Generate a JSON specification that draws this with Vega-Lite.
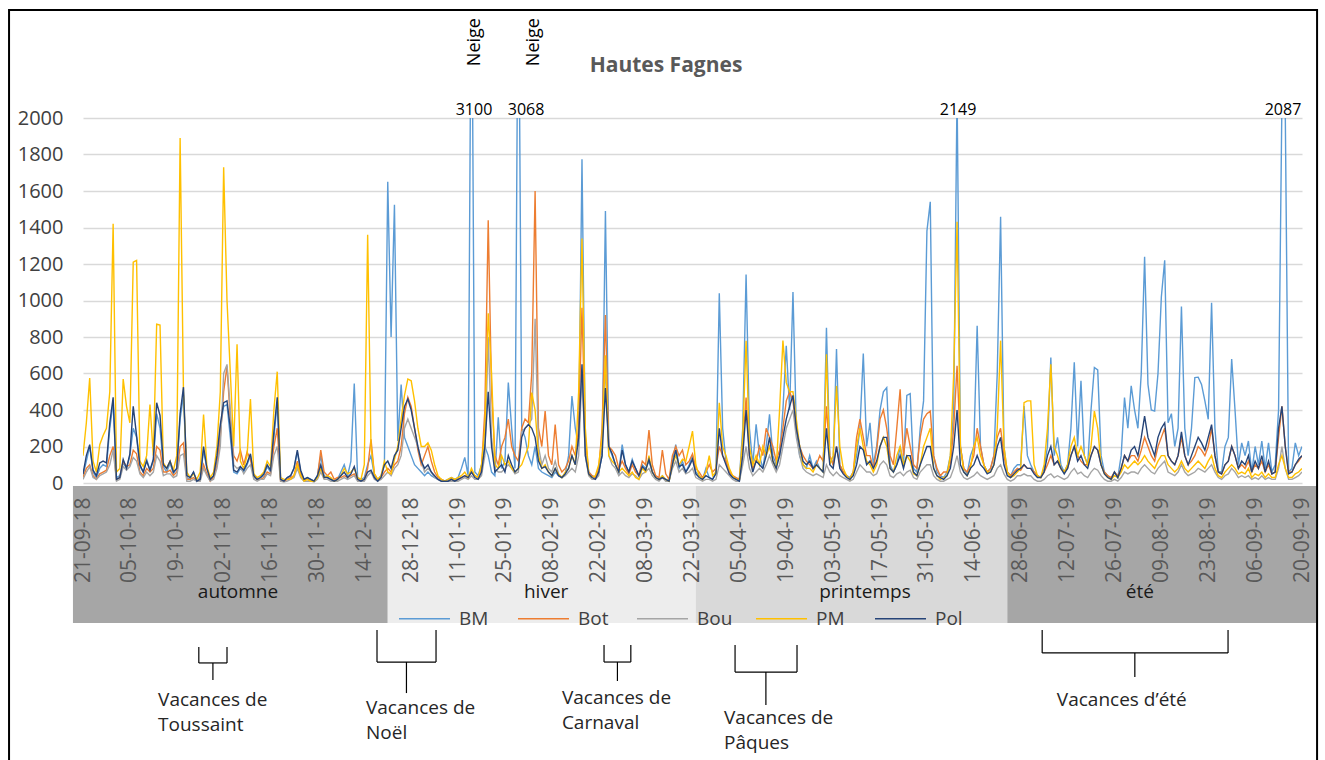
{
"$schema":"https://vega.github.io/schema/vega-lite/v6.json",
"width":1219,"height":365,
"autosize":{"type":"none"},
"padding":{"left":83,"top":118,"right":23,"bottom":277},
"background":"white",
"config":{"font":"Open Sans","view":{"stroke":null}},
"resolve":{"axis":{"x":"independent","y":"independent"}},
"datasets":{
"daily":[
{"d":"2018-09-21","BM":40,"Bot":30,"Bou":20,"PM":150,"Pol":50},
{"d":"2018-09-22","BM":120,"Bot":80,"Bou":60,"PM":330,"Pol":150},
{"d":"2018-09-23","BM":200,"Bot":100,"Bou":90,"PM":575,"Pol":210},
{"d":"2018-09-24","BM":60,"Bot":40,"Bou":30,"PM":120,"Pol":70},
{"d":"2018-09-25","BM":30,"Bot":20,"Bou":20,"PM":60,"Pol":40},
{"d":"2018-09-26","BM":80,"Bot":50,"Bou":40,"PM":210,"Pol":110},
{"d":"2018-09-27","BM":100,"Bot":60,"Bou":50,"PM":260,"Pol":120},
{"d":"2018-09-28","BM":90,"Bot":70,"Bou":60,"PM":300,"Pol":110},
{"d":"2018-09-29","BM":300,"Bot":150,"Bou":100,"PM":500,"Pol":330},
{"d":"2018-09-30","BM":440,"Bot":200,"Bou":180,"PM":1420,"Pol":470},
{"d":"2018-10-01","BM":30,"Bot":20,"Bou":10,"PM":60,"Pol":20},
{"d":"2018-10-02","BM":40,"Bot":30,"Bou":20,"PM":80,"Pol":30},
{"d":"2018-10-03","BM":110,"Bot":120,"Bou":90,"PM":570,"Pol":130},
{"d":"2018-10-04","BM":80,"Bot":90,"Bou":70,"PM":420,"Pol":80},
{"d":"2018-10-05","BM":150,"Bot":100,"Bou":90,"PM":330,"Pol":160},
{"d":"2018-10-06","BM":300,"Bot":180,"Bou":140,"PM":1210,"Pol":420},
{"d":"2018-10-07","BM":250,"Bot":160,"Bou":120,"PM":1220,"Pol":260},
{"d":"2018-10-08","BM":90,"Bot":60,"Bou":50,"PM":120,"Pol":100},
{"d":"2018-10-09","BM":60,"Bot":40,"Bou":30,"PM":90,"Pol":60},
{"d":"2018-10-10","BM":130,"Bot":80,"Bou":60,"PM":150,"Pol":120},
{"d":"2018-10-11","BM":70,"Bot":60,"Bou":40,"PM":430,"Pol":70},
{"d":"2018-10-12","BM":120,"Bot":80,"Bou":60,"PM":150,"Pol":130},
{"d":"2018-10-13","BM":380,"Bot":200,"Bou":150,"PM":870,"Pol":440},
{"d":"2018-10-14","BM":300,"Bot":180,"Bou":120,"PM":865,"Pol":370},
{"d":"2018-10-15","BM":90,"Bot":60,"Bou":40,"PM":110,"Pol":100},
{"d":"2018-10-16","BM":60,"Bot":60,"Bou":50,"PM":80,"Pol":80},
{"d":"2018-10-17","BM":110,"Bot":70,"Bou":50,"PM":120,"Pol":120},
{"d":"2018-10-18","BM":50,"Bot":40,"Bou":30,"PM":70,"Pol":60},
{"d":"2018-10-19","BM":80,"Bot":60,"Bou":40,"PM":150,"Pol":80},
{"d":"2018-10-20","BM":350,"Bot":200,"Bou":150,"PM":1890,"Pol":380},
{"d":"2018-10-21","BM":480,"Bot":220,"Bou":160,"PM":500,"Pol":525},
{"d":"2018-10-22","BM":30,"Bot":20,"Bou":10,"PM":60,"Pol":40},
{"d":"2018-10-23","BM":20,"Bot":20,"Bou":10,"PM":30,"Pol":30},
{"d":"2018-10-24","BM":60,"Bot":30,"Bou":20,"PM":50,"Pol":60},
{"d":"2018-10-25","BM":10,"Bot":10,"Bou":10,"PM":20,"Pol":10},
{"d":"2018-10-26","BM":30,"Bot":20,"Bou":10,"PM":60,"Pol":20},
{"d":"2018-10-27","BM":180,"Bot":100,"Bou":80,"PM":375,"Pol":200},
{"d":"2018-10-28","BM":80,"Bot":50,"Bou":40,"PM":90,"Pol":80},
{"d":"2018-10-29","BM":20,"Bot":10,"Bou":10,"PM":30,"Pol":20},
{"d":"2018-10-30","BM":40,"Bot":30,"Bou":20,"PM":60,"Pol":40},
{"d":"2018-10-31","BM":120,"Bot":100,"Bou":80,"PM":200,"Pol":150},
{"d":"2018-11-01","BM":300,"Bot":250,"Bou":200,"PM":500,"Pol":320},
{"d":"2018-11-02","BM":420,"Bot":500,"Bou":600,"PM":1730,"Pol":440},
{"d":"2018-11-03","BM":430,"Bot":640,"Bou":650,"PM":1000,"Pol":450},
{"d":"2018-11-04","BM":250,"Bot":350,"Bou":400,"PM":600,"Pol":300},
{"d":"2018-11-05","BM":60,"Bot":150,"Bou":100,"PM":200,"Pol":70},
{"d":"2018-11-06","BM":50,"Bot":120,"Bou":80,"PM":760,"Pol":60},
{"d":"2018-11-07","BM":80,"Bot":180,"Bou":90,"PM":120,"Pol":90},
{"d":"2018-11-08","BM":60,"Bot":100,"Bou":50,"PM":80,"Pol":70},
{"d":"2018-11-09","BM":100,"Bot":170,"Bou":80,"PM":150,"Pol":110},
{"d":"2018-11-10","BM":150,"Bot":130,"Bou":100,"PM":460,"Pol":160},
{"d":"2018-11-11","BM":30,"Bot":40,"Bou":20,"PM":50,"Pol":40},
{"d":"2018-11-12","BM":20,"Bot":20,"Bou":10,"PM":30,"Pol":20},
{"d":"2018-11-13","BM":30,"Bot":20,"Bou":20,"PM":40,"Pol":30},
{"d":"2018-11-14","BM":40,"Bot":30,"Bou":20,"PM":60,"Pol":50},
{"d":"2018-11-15","BM":90,"Bot":60,"Bou":50,"PM":120,"Pol":100},
{"d":"2018-11-16","BM":60,"Bot":50,"Bou":40,"PM":90,"Pol":70},
{"d":"2018-11-17","BM":250,"Bot":200,"Bou":150,"PM":400,"Pol":280},
{"d":"2018-11-18","BM":440,"Bot":300,"Bou":200,"PM":610,"Pol":470},
{"d":"2018-11-19","BM":20,"Bot":10,"Bou":10,"PM":30,"Pol":20},
{"d":"2018-11-20","BM":10,"Bot":10,"Bou":5,"PM":20,"Pol":10},
{"d":"2018-11-21","BM":30,"Bot":20,"Bou":10,"PM":20,"Pol":30},
{"d":"2018-11-22","BM":40,"Bot":30,"Bou":20,"PM":20,"Pol":40},
{"d":"2018-11-23","BM":80,"Bot":40,"Bou":30,"PM":40,"Pol":80},
{"d":"2018-11-24","BM":170,"Bot":120,"Bou":80,"PM":100,"Pol":180},
{"d":"2018-11-25","BM":60,"Bot":50,"Bou":30,"PM":40,"Pol":70},
{"d":"2018-11-26","BM":20,"Bot":20,"Bou":10,"PM":10,"Pol":20},
{"d":"2018-11-27","BM":30,"Bot":20,"Bou":10,"PM":20,"Pol":30},
{"d":"2018-11-28","BM":20,"Bot":10,"Bou":10,"PM":10,"Pol":20},
{"d":"2018-11-29","BM":10,"Bot":10,"Bou":5,"PM":10,"Pol":10},
{"d":"2018-11-30","BM":40,"Bot":30,"Bou":20,"PM":30,"Pol":40},
{"d":"2018-12-01","BM":150,"Bot":180,"Bou":60,"PM":80,"Pol":100},
{"d":"2018-12-02","BM":40,"Bot":60,"Bou":20,"PM":30,"Pol":30},
{"d":"2018-12-03","BM":30,"Bot":40,"Bou":20,"PM":40,"Pol":30},
{"d":"2018-12-04","BM":20,"Bot":60,"Bou":10,"PM":30,"Pol":20},
{"d":"2018-12-05","BM":10,"Bot":20,"Bou":10,"PM":10,"Pol":10},
{"d":"2018-12-06","BM":20,"Bot":30,"Bou":10,"PM":20,"Pol":20},
{"d":"2018-12-07","BM":60,"Bot":30,"Bou":20,"PM":40,"Pol":40},
{"d":"2018-12-08","BM":100,"Bot":40,"Bou":30,"PM":80,"Pol":60},
{"d":"2018-12-09","BM":40,"Bot":30,"Bou":20,"PM":50,"Pol":30},
{"d":"2018-12-10","BM":120,"Bot":40,"Bou":30,"PM":60,"Pol":50},
{"d":"2018-12-11","BM":545,"Bot":50,"Bou":40,"PM":80,"Pol":90},
{"d":"2018-12-12","BM":30,"Bot":20,"Bou":10,"PM":30,"Pol":20},
{"d":"2018-12-13","BM":20,"Bot":10,"Bou":10,"PM":20,"Pol":10},
{"d":"2018-12-14","BM":30,"Bot":20,"Bou":10,"PM":100,"Pol":20},
{"d":"2018-12-15","BM":100,"Bot":80,"Bou":40,"PM":1360,"Pol":60},
{"d":"2018-12-16","BM":150,"Bot":240,"Bou":60,"PM":200,"Pol":70},
{"d":"2018-12-17","BM":40,"Bot":50,"Bou":20,"PM":50,"Pol":30},
{"d":"2018-12-18","BM":20,"Bot":20,"Bou":10,"PM":20,"Pol":10},
{"d":"2018-12-19","BM":40,"Bot":30,"Bou":20,"PM":40,"Pol":30},
{"d":"2018-12-20","BM":100,"Bot":60,"Bou":40,"PM":120,"Pol":100},
{"d":"2018-12-21","BM":1650,"Bot":80,"Bou":60,"PM":60,"Pol":120},
{"d":"2018-12-22","BM":800,"Bot":60,"Bou":40,"PM":50,"Pol":80},
{"d":"2018-12-23","BM":1525,"Bot":100,"Bou":80,"PM":130,"Pol":150},
{"d":"2018-12-24","BM":230,"Bot":120,"Bou":100,"PM":200,"Pol":180},
{"d":"2018-12-25","BM":540,"Bot":200,"Bou":150,"PM":350,"Pol":300},
{"d":"2018-12-26","BM":250,"Bot":380,"Bou":300,"PM":480,"Pol":420},
{"d":"2018-12-27","BM":200,"Bot":470,"Bou":350,"PM":570,"Pol":460},
{"d":"2018-12-28","BM":150,"Bot":420,"Bou":300,"PM":560,"Pol":400},
{"d":"2018-12-29","BM":100,"Bot":300,"Bou":250,"PM":450,"Pol":300},
{"d":"2018-12-30","BM":80,"Bot":180,"Bou":200,"PM":300,"Pol":200},
{"d":"2018-12-31","BM":60,"Bot":100,"Bou":120,"PM":200,"Pol":120},
{"d":"2019-01-01","BM":40,"Bot":150,"Bou":60,"PM":200,"Pol":80},
{"d":"2019-01-02","BM":60,"Bot":200,"Bou":80,"PM":220,"Pol":100},
{"d":"2019-01-03","BM":40,"Bot":120,"Bou":60,"PM":180,"Pol":60},
{"d":"2019-01-04","BM":30,"Bot":60,"Bou":30,"PM":100,"Pol":40},
{"d":"2019-01-05","BM":20,"Bot":30,"Bou":20,"PM":40,"Pol":20},
{"d":"2019-01-06","BM":20,"Bot":20,"Bou":10,"PM":20,"Pol":10},
{"d":"2019-01-07","BM":10,"Bot":10,"Bou":10,"PM":10,"Pol":10},
{"d":"2019-01-08","BM":20,"Bot":10,"Bou":10,"PM":20,"Pol":10},
{"d":"2019-01-09","BM":30,"Bot":20,"Bou":10,"PM":30,"Pol":20},
{"d":"2019-01-10","BM":20,"Bot":10,"Bou":10,"PM":20,"Pol":10},
{"d":"2019-01-11","BM":30,"Bot":20,"Bou":10,"PM":30,"Pol":20},
{"d":"2019-01-12","BM":80,"Bot":30,"Bou":20,"PM":40,"Pol":30},
{"d":"2019-01-13","BM":140,"Bot":40,"Bou":30,"PM":60,"Pol":40},
{"d":"2019-01-14","BM":40,"Bot":30,"Bou":20,"PM":30,"Pol":30},
{"d":"2019-01-15","BM":3100,"Bot":60,"Bou":40,"PM":80,"Pol":60},
{"d":"2019-01-16","BM":60,"Bot":40,"Bou":20,"PM":40,"Pol":30},
{"d":"2019-01-17","BM":40,"Bot":30,"Bou":20,"PM":30,"Pol":20},
{"d":"2019-01-18","BM":100,"Bot":80,"Bou":40,"PM":100,"Pol":60},
{"d":"2019-01-19","BM":200,"Bot":400,"Bou":150,"PM":300,"Pol":200},
{"d":"2019-01-20","BM":150,"Bot":1440,"Bou":800,"PM":930,"Pol":500},
{"d":"2019-01-21","BM":60,"Bot":500,"Bou":250,"PM":600,"Pol":200},
{"d":"2019-01-22","BM":40,"Bot":150,"Bou":80,"PM":100,"Pol":60},
{"d":"2019-01-23","BM":360,"Bot":100,"Bou":60,"PM":80,"Pol":80},
{"d":"2019-01-24","BM":80,"Bot":200,"Bou":60,"PM":150,"Pol":100},
{"d":"2019-01-25","BM":120,"Bot":250,"Bou":80,"PM":100,"Pol":60},
{"d":"2019-01-26","BM":550,"Bot":350,"Bou":100,"PM":120,"Pol":150},
{"d":"2019-01-27","BM":300,"Bot":200,"Bou":80,"PM":80,"Pol":100},
{"d":"2019-01-28","BM":80,"Bot":150,"Bou":50,"PM":60,"Pol":60},
{"d":"2019-01-29","BM":3068,"Bot":120,"Bou":60,"PM":80,"Pol":80},
{"d":"2019-01-30","BM":300,"Bot":300,"Bou":280,"PM":100,"Pol":250},
{"d":"2019-01-31","BM":250,"Bot":350,"Bou":300,"PM":150,"Pol":300},
{"d":"2019-02-01","BM":150,"Bot":330,"Bou":320,"PM":200,"Pol":320},
{"d":"2019-02-02","BM":100,"Bot":600,"Bou":350,"PM":495,"Pol":300},
{"d":"2019-02-03","BM":200,"Bot":1600,"Bou":900,"PM":400,"Pol":250},
{"d":"2019-02-04","BM":80,"Bot":300,"Bou":200,"PM":150,"Pol":120},
{"d":"2019-02-05","BM":60,"Bot":200,"Bou":100,"PM":80,"Pol":80},
{"d":"2019-02-06","BM":50,"Bot":394,"Bou":150,"PM":100,"Pol":90},
{"d":"2019-02-07","BM":40,"Bot":150,"Bou":80,"PM":60,"Pol":60},
{"d":"2019-02-08","BM":30,"Bot":100,"Bou":60,"PM":40,"Pol":40},
{"d":"2019-02-09","BM":60,"Bot":320,"Bou":120,"PM":80,"Pol":80},
{"d":"2019-02-10","BM":40,"Bot":100,"Bou":50,"PM":50,"Pol":40},
{"d":"2019-02-11","BM":30,"Bot":60,"Bou":30,"PM":30,"Pol":30},
{"d":"2019-02-12","BM":50,"Bot":80,"Bou":40,"PM":60,"Pol":50},
{"d":"2019-02-13","BM":150,"Bot":120,"Bou":60,"PM":80,"Pol":80},
{"d":"2019-02-14","BM":477,"Bot":200,"Bou":80,"PM":150,"Pol":150},
{"d":"2019-02-15","BM":300,"Bot":150,"Bou":60,"PM":100,"Pol":100},
{"d":"2019-02-16","BM":200,"Bot":300,"Bou":150,"PM":500,"Pol":250},
{"d":"2019-02-17","BM":1774,"Bot":960,"Bou":600,"PM":1340,"Pol":650},
{"d":"2019-02-18","BM":200,"Bot":250,"Bou":150,"PM":300,"Pol":150},
{"d":"2019-02-19","BM":60,"Bot":60,"Bou":40,"PM":50,"Pol":50},
{"d":"2019-02-20","BM":40,"Bot":40,"Bou":20,"PM":30,"Pol":30},
{"d":"2019-02-21","BM":30,"Bot":30,"Bou":20,"PM":40,"Pol":20},
{"d":"2019-02-22","BM":60,"Bot":80,"Bou":40,"PM":100,"Pol":60},
{"d":"2019-02-23","BM":150,"Bot":300,"Bou":200,"PM":250,"Pol":150},
{"d":"2019-02-24","BM":1490,"Bot":920,"Bou":650,"PM":700,"Pol":520},
{"d":"2019-02-25","BM":200,"Bot":200,"Bou":150,"PM":150,"Pol":200},
{"d":"2019-02-26","BM":150,"Bot":180,"Bou":100,"PM":120,"Pol":160},
{"d":"2019-02-27","BM":100,"Bot":150,"Bou":80,"PM":100,"Pol":100},
{"d":"2019-02-28","BM":60,"Bot":80,"Bou":40,"PM":60,"Pol":60},
{"d":"2019-03-01","BM":210,"Bot":120,"Bou":60,"PM":80,"Pol":180},
{"d":"2019-03-02","BM":100,"Bot":80,"Bou":40,"PM":60,"Pol":100},
{"d":"2019-03-03","BM":60,"Bot":50,"Bou":30,"PM":40,"Pol":60},
{"d":"2019-03-04","BM":130,"Bot":100,"Bou":50,"PM":60,"Pol":120},
{"d":"2019-03-05","BM":80,"Bot":60,"Bou":40,"PM":30,"Pol":80},
{"d":"2019-03-06","BM":40,"Bot":40,"Bou":20,"PM":20,"Pol":40},
{"d":"2019-03-07","BM":100,"Bot":120,"Bou":50,"PM":80,"Pol":90},
{"d":"2019-03-08","BM":80,"Bot":100,"Bou":60,"PM":60,"Pol":70},
{"d":"2019-03-09","BM":120,"Bot":290,"Bou":80,"PM":150,"Pol":130},
{"d":"2019-03-10","BM":60,"Bot":100,"Bou":40,"PM":60,"Pol":60},
{"d":"2019-03-11","BM":30,"Bot":40,"Bou":20,"PM":30,"Pol":30},
{"d":"2019-03-12","BM":20,"Bot":30,"Bou":10,"PM":20,"Pol":20},
{"d":"2019-03-13","BM":40,"Bot":180,"Bou":30,"PM":40,"Pol":30},
{"d":"2019-03-14","BM":20,"Bot":50,"Bou":10,"PM":20,"Pol":20},
{"d":"2019-03-15","BM":10,"Bot":20,"Bou":10,"PM":10,"Pol":10},
{"d":"2019-03-16","BM":120,"Bot":150,"Bou":80,"PM":100,"Pol":100},
{"d":"2019-03-17","BM":210,"Bot":200,"Bou":120,"PM":150,"Pol":180},
{"d":"2019-03-18","BM":80,"Bot":150,"Bou":60,"PM":100,"Pol":90},
{"d":"2019-03-19","BM":120,"Bot":180,"Bou":80,"PM":130,"Pol":100},
{"d":"2019-03-20","BM":60,"Bot":100,"Bou":50,"PM":120,"Pol":60},
{"d":"2019-03-21","BM":100,"Bot":120,"Bou":60,"PM":200,"Pol":90},
{"d":"2019-03-22","BM":150,"Bot":160,"Bou":80,"PM":284,"Pol":130},
{"d":"2019-03-23","BM":60,"Bot":80,"Bou":30,"PM":100,"Pol":50},
{"d":"2019-03-24","BM":40,"Bot":60,"Bou":20,"PM":40,"Pol":30},
{"d":"2019-03-25","BM":20,"Bot":30,"Bou":10,"PM":20,"Pol":20},
{"d":"2019-03-26","BM":80,"Bot":60,"Bou":20,"PM":60,"Pol":40},
{"d":"2019-03-27","BM":30,"Bot":100,"Bou":20,"PM":150,"Pol":30},
{"d":"2019-03-28","BM":20,"Bot":60,"Bou":10,"PM":40,"Pol":20},
{"d":"2019-03-29","BM":60,"Bot":80,"Bou":20,"PM":60,"Pol":50},
{"d":"2019-03-30","BM":1040,"Bot":200,"Bou":100,"PM":440,"Pol":300},
{"d":"2019-03-31","BM":300,"Bot":150,"Bou":80,"PM":200,"Pol":150},
{"d":"2019-04-01","BM":120,"Bot":120,"Bou":60,"PM":150,"Pol":100},
{"d":"2019-04-02","BM":60,"Bot":60,"Bou":40,"PM":80,"Pol":50},
{"d":"2019-04-03","BM":30,"Bot":40,"Bou":20,"PM":40,"Pol":30},
{"d":"2019-04-04","BM":20,"Bot":30,"Bou":10,"PM":20,"Pol":20},
{"d":"2019-04-05","BM":20,"Bot":20,"Bou":10,"PM":20,"Pol":10},
{"d":"2019-04-06","BM":300,"Bot":200,"Bou":100,"PM":250,"Pol":150},
{"d":"2019-04-07","BM":1143,"Bot":468,"Bou":200,"PM":780,"Pol":400},
{"d":"2019-04-08","BM":300,"Bot":150,"Bou":80,"PM":200,"Pol":150},
{"d":"2019-04-09","BM":100,"Bot":80,"Bou":40,"PM":100,"Pol":60},
{"d":"2019-04-10","BM":321,"Bot":120,"Bou":60,"PM":150,"Pol":120},
{"d":"2019-04-11","BM":150,"Bot":200,"Bou":80,"PM":100,"Pol":100},
{"d":"2019-04-12","BM":80,"Bot":150,"Bou":60,"PM":200,"Pol":80},
{"d":"2019-04-13","BM":200,"Bot":300,"Bou":100,"PM":150,"Pol":150},
{"d":"2019-04-14","BM":376,"Bot":250,"Bou":150,"PM":200,"Pol":250},
{"d":"2019-04-15","BM":150,"Bot":200,"Bou":100,"PM":120,"Pol":120},
{"d":"2019-04-16","BM":100,"Bot":120,"Bou":60,"PM":80,"Pol":80},
{"d":"2019-04-17","BM":150,"Bot":180,"Bou":100,"PM":400,"Pol":150},
{"d":"2019-04-18","BM":400,"Bot":300,"Bou":200,"PM":780,"Pol":250},
{"d":"2019-04-19","BM":752,"Bot":450,"Bou":300,"PM":550,"Pol":350},
{"d":"2019-04-20","BM":400,"Bot":500,"Bou":350,"PM":500,"Pol":420},
{"d":"2019-04-21","BM":1046,"Bot":450,"Bou":400,"PM":500,"Pol":480},
{"d":"2019-04-22","BM":300,"Bot":300,"Bou":250,"PM":350,"Pol":300},
{"d":"2019-04-23","BM":150,"Bot":200,"Bou":150,"PM":200,"Pol":200},
{"d":"2019-04-24","BM":100,"Bot":150,"Bou":80,"PM":100,"Pol":120},
{"d":"2019-04-25","BM":80,"Bot":120,"Bou":60,"PM":80,"Pol":100},
{"d":"2019-04-26","BM":150,"Bot":100,"Bou":50,"PM":80,"Pol":120},
{"d":"2019-04-27","BM":80,"Bot":80,"Bou":40,"PM":60,"Pol":80},
{"d":"2019-04-28","BM":120,"Bot":100,"Bou":50,"PM":100,"Pol":100},
{"d":"2019-04-29","BM":80,"Bot":150,"Bou":40,"PM":80,"Pol":80},
{"d":"2019-04-30","BM":60,"Bot":120,"Bou":30,"PM":60,"Pol":60},
{"d":"2019-05-01","BM":850,"Bot":420,"Bou":100,"PM":706,"Pol":300},
{"d":"2019-05-02","BM":150,"Bot":150,"Bou":60,"PM":100,"Pol":100},
{"d":"2019-05-03","BM":100,"Bot":100,"Bou":40,"PM":150,"Pol":80},
{"d":"2019-05-04","BM":734,"Bot":200,"Bou":60,"PM":532,"Pol":200},
{"d":"2019-05-05","BM":100,"Bot":100,"Bou":40,"PM":200,"Pol":80},
{"d":"2019-05-06","BM":60,"Bot":60,"Bou":30,"PM":80,"Pol":50},
{"d":"2019-05-07","BM":40,"Bot":40,"Bou":20,"PM":40,"Pol":30},
{"d":"2019-05-08","BM":30,"Bot":20,"Bou":10,"PM":20,"Pol":20},
{"d":"2019-05-09","BM":60,"Bot":60,"Bou":20,"PM":60,"Pol":40},
{"d":"2019-05-10","BM":150,"Bot":250,"Bou":60,"PM":200,"Pol":100},
{"d":"2019-05-11","BM":300,"Bot":350,"Bou":100,"PM":300,"Pol":200},
{"d":"2019-05-12","BM":710,"Bot":250,"Bou":80,"PM":200,"Pol":180},
{"d":"2019-05-13","BM":200,"Bot":150,"Bou":60,"PM":120,"Pol":100},
{"d":"2019-05-14","BM":330,"Bot":150,"Bou":60,"PM":100,"Pol":120},
{"d":"2019-05-15","BM":100,"Bot":80,"Bou":40,"PM":60,"Pol":80},
{"d":"2019-05-16","BM":200,"Bot":180,"Bou":50,"PM":100,"Pol":120},
{"d":"2019-05-17","BM":400,"Bot":350,"Bou":100,"PM":200,"Pol":200},
{"d":"2019-05-18","BM":500,"Bot":400,"Bou":120,"PM":250,"Pol":250},
{"d":"2019-05-19","BM":523,"Bot":300,"Bou":100,"PM":200,"Pol":250},
{"d":"2019-05-20","BM":100,"Bot":150,"Bou":40,"PM":80,"Pol":80},
{"d":"2019-05-21","BM":60,"Bot":100,"Bou":30,"PM":60,"Pol":60},
{"d":"2019-05-22","BM":100,"Bot":300,"Bou":50,"PM":150,"Pol":100},
{"d":"2019-05-23","BM":200,"Bot":514,"Bou":60,"PM":200,"Pol":150},
{"d":"2019-05-24","BM":100,"Bot":150,"Bou":40,"PM":100,"Pol":80},
{"d":"2019-05-25","BM":480,"Bot":300,"Bou":60,"PM":150,"Pol":150},
{"d":"2019-05-26","BM":490,"Bot":200,"Bou":70,"PM":120,"Pol":150},
{"d":"2019-05-27","BM":80,"Bot":100,"Bou":30,"PM":50,"Pol":60},
{"d":"2019-05-28","BM":60,"Bot":80,"Bou":20,"PM":40,"Pol":40},
{"d":"2019-05-29","BM":300,"Bot":250,"Bou":60,"PM":100,"Pol":100},
{"d":"2019-05-30","BM":450,"Bot":350,"Bou":80,"PM":200,"Pol":150},
{"d":"2019-05-31","BM":1380,"Bot":380,"Bou":100,"PM":250,"Pol":200},
{"d":"2019-06-01","BM":1541,"Bot":394,"Bou":100,"PM":300,"Pol":200},
{"d":"2019-06-02","BM":150,"Bot":150,"Bou":40,"PM":80,"Pol":80},
{"d":"2019-06-03","BM":60,"Bot":80,"Bou":20,"PM":40,"Pol":40},
{"d":"2019-06-04","BM":40,"Bot":40,"Bou":10,"PM":20,"Pol":30},
{"d":"2019-06-05","BM":30,"Bot":60,"Bou":10,"PM":30,"Pol":20},
{"d":"2019-06-06","BM":60,"Bot":60,"Bou":20,"PM":40,"Pol":40},
{"d":"2019-06-07","BM":150,"Bot":100,"Bou":30,"PM":150,"Pol":80},
{"d":"2019-06-08","BM":400,"Bot":300,"Bou":80,"PM":600,"Pol":200},
{"d":"2019-06-09","BM":2149,"Bot":642,"Bou":150,"PM":1431,"Pol":400},
{"d":"2019-06-10","BM":200,"Bot":200,"Bou":60,"PM":200,"Pol":100},
{"d":"2019-06-11","BM":80,"Bot":80,"Bou":30,"PM":60,"Pol":60},
{"d":"2019-06-12","BM":50,"Bot":60,"Bou":20,"PM":40,"Pol":40},
{"d":"2019-06-13","BM":150,"Bot":100,"Bou":30,"PM":80,"Pol":80},
{"d":"2019-06-14","BM":200,"Bot":150,"Bou":40,"PM":200,"Pol":100},
{"d":"2019-06-15","BM":862,"Bot":300,"Bou":60,"PM":250,"Pol":150},
{"d":"2019-06-16","BM":200,"Bot":200,"Bou":40,"PM":150,"Pol":100},
{"d":"2019-06-17","BM":100,"Bot":100,"Bou":30,"PM":100,"Pol":80},
{"d":"2019-06-18","BM":60,"Bot":60,"Bou":20,"PM":60,"Pol":50},
{"d":"2019-06-19","BM":80,"Bot":80,"Bou":30,"PM":60,"Pol":60},
{"d":"2019-06-20","BM":150,"Bot":150,"Bou":40,"PM":100,"Pol":100},
{"d":"2019-06-21","BM":600,"Bot":250,"Bou":80,"PM":300,"Pol":200},
{"d":"2019-06-22","BM":1459,"Bot":300,"Bou":100,"PM":780,"Pol":250},
{"d":"2019-06-23","BM":200,"Bot":150,"Bou":50,"PM":200,"Pol":100},
{"d":"2019-06-24","BM":60,"Bot":60,"Bou":20,"PM":60,"Pol":40},
{"d":"2019-06-25","BM":40,"Bot":40,"Bou":10,"PM":30,"Pol":30},
{"d":"2019-06-26","BM":80,"Bot":60,"Bou":20,"PM":40,"Pol":50},
{"d":"2019-06-27","BM":100,"Bot":80,"Bou":40,"PM":60,"Pol":70},
{"d":"2019-06-28","BM":100,"Bot":70,"Bou":40,"PM":80,"Pol":80},
{"d":"2019-06-29","BM":422,"Bot":100,"Bou":50,"PM":440,"Pol":100},
{"d":"2019-06-30","BM":150,"Bot":80,"Bou":40,"PM":450,"Pol":80},
{"d":"2019-07-01","BM":100,"Bot":80,"Bou":40,"PM":450,"Pol":80},
{"d":"2019-07-02","BM":60,"Bot":60,"Bou":20,"PM":100,"Pol":50},
{"d":"2019-07-03","BM":40,"Bot":40,"Bou":10,"PM":40,"Pol":30},
{"d":"2019-07-04","BM":30,"Bot":30,"Bou":10,"PM":30,"Pol":30},
{"d":"2019-07-05","BM":80,"Bot":60,"Bou":20,"PM":100,"Pol":60},
{"d":"2019-07-06","BM":200,"Bot":100,"Bou":40,"PM":300,"Pol":150},
{"d":"2019-07-07","BM":688,"Bot":150,"Bou":50,"PM":650,"Pol":200},
{"d":"2019-07-08","BM":150,"Bot":100,"Bou":30,"PM":200,"Pol":100},
{"d":"2019-07-09","BM":250,"Bot":120,"Bou":40,"PM":150,"Pol":120},
{"d":"2019-07-10","BM":100,"Bot":80,"Bou":30,"PM":80,"Pol":80},
{"d":"2019-07-11","BM":60,"Bot":60,"Bou":20,"PM":60,"Pol":50},
{"d":"2019-07-12","BM":100,"Bot":80,"Bou":30,"PM":100,"Pol":80},
{"d":"2019-07-13","BM":300,"Bot":150,"Bou":60,"PM":200,"Pol":150},
{"d":"2019-07-14","BM":661,"Bot":200,"Bou":80,"PM":250,"Pol":200},
{"d":"2019-07-15","BM":200,"Bot":150,"Bou":50,"PM":150,"Pol":120},
{"d":"2019-07-16","BM":560,"Bot":120,"Bou":60,"PM":200,"Pol":150},
{"d":"2019-07-17","BM":150,"Bot":100,"Bou":40,"PM":150,"Pol":100},
{"d":"2019-07-18","BM":100,"Bot":100,"Bou":30,"PM":100,"Pol":80},
{"d":"2019-07-19","BM":400,"Bot":150,"Bou":60,"PM":200,"Pol":150},
{"d":"2019-07-20","BM":633,"Bot":200,"Bou":80,"PM":394,"Pol":200},
{"d":"2019-07-21","BM":620,"Bot":180,"Bou":70,"PM":300,"Pol":180},
{"d":"2019-07-22","BM":150,"Bot":100,"Bou":40,"PM":100,"Pol":100},
{"d":"2019-07-23","BM":60,"Bot":60,"Bou":20,"PM":50,"Pol":50},
{"d":"2019-07-24","BM":40,"Bot":40,"Bou":10,"PM":30,"Pol":30},
{"d":"2019-07-25","BM":20,"Bot":30,"Bou":10,"PM":20,"Pol":20},
{"d":"2019-07-26","BM":60,"Bot":60,"Bou":20,"PM":40,"Pol":60},
{"d":"2019-07-27","BM":30,"Bot":40,"Bou":10,"PM":30,"Pol":30},
{"d":"2019-07-28","BM":150,"Bot":80,"Bou":30,"PM":60,"Pol":80},
{"d":"2019-07-29","BM":468,"Bot":150,"Bou":60,"PM":100,"Pol":150},
{"d":"2019-07-30","BM":300,"Bot":120,"Bou":50,"PM":80,"Pol":120},
{"d":"2019-07-31","BM":532,"Bot":150,"Bou":60,"PM":100,"Pol":180},
{"d":"2019-08-01","BM":400,"Bot":150,"Bou":60,"PM":120,"Pol":200},
{"d":"2019-08-02","BM":300,"Bot":120,"Bou":50,"PM":100,"Pol":150},
{"d":"2019-08-03","BM":600,"Bot":180,"Bou":80,"PM":120,"Pol":250},
{"d":"2019-08-04","BM":1239,"Bot":250,"Bou":100,"PM":150,"Pol":367},
{"d":"2019-08-05","BM":541,"Bot":200,"Bou":80,"PM":120,"Pol":250},
{"d":"2019-08-06","BM":400,"Bot":150,"Bou":60,"PM":100,"Pol":200},
{"d":"2019-08-07","BM":394,"Bot":120,"Bou":50,"PM":80,"Pol":150},
{"d":"2019-08-08","BM":600,"Bot":200,"Bou":80,"PM":120,"Pol":250},
{"d":"2019-08-09","BM":1019,"Bot":250,"Bou":100,"PM":150,"Pol":300},
{"d":"2019-08-10","BM":1220,"Bot":300,"Bou":120,"PM":150,"Pol":330},
{"d":"2019-08-11","BM":330,"Bot":150,"Bou":60,"PM":100,"Pol":150},
{"d":"2019-08-12","BM":380,"Bot":120,"Bou":50,"PM":80,"Pol":120},
{"d":"2019-08-13","BM":200,"Bot":100,"Bou":40,"PM":60,"Pol":100},
{"d":"2019-08-14","BM":300,"Bot":150,"Bou":60,"PM":80,"Pol":150},
{"d":"2019-08-15","BM":967,"Bot":250,"Bou":100,"PM":120,"Pol":280},
{"d":"2019-08-16","BM":300,"Bot":150,"Bou":60,"PM":80,"Pol":150},
{"d":"2019-08-17","BM":150,"Bot":100,"Bou":40,"PM":60,"Pol":100},
{"d":"2019-08-18","BM":300,"Bot":120,"Bou":50,"PM":80,"Pol":150},
{"d":"2019-08-19","BM":578,"Bot":150,"Bou":60,"PM":100,"Pol":200},
{"d":"2019-08-20","BM":580,"Bot":200,"Bou":80,"PM":120,"Pol":250},
{"d":"2019-08-21","BM":540,"Bot":180,"Bou":70,"PM":100,"Pol":220},
{"d":"2019-08-22","BM":450,"Bot":150,"Bou":60,"PM":80,"Pol":180},
{"d":"2019-08-23","BM":349,"Bot":200,"Bou":80,"PM":120,"Pol":250},
{"d":"2019-08-24","BM":987,"Bot":300,"Bou":100,"PM":150,"Pol":320},
{"d":"2019-08-25","BM":300,"Bot":150,"Bou":60,"PM":80,"Pol":150},
{"d":"2019-08-26","BM":64,"Bot":60,"Bou":30,"PM":40,"Pol":60},
{"d":"2019-08-27","BM":60,"Bot":50,"Bou":20,"PM":30,"Pol":50},
{"d":"2019-08-28","BM":200,"Bot":100,"Bou":40,"PM":60,"Pol":100},
{"d":"2019-08-29","BM":250,"Bot":120,"Bou":50,"PM":80,"Pol":120},
{"d":"2019-08-30","BM":679,"Bot":200,"Bou":80,"PM":100,"Pol":200},
{"d":"2019-08-31","BM":400,"Bot":150,"Bou":60,"PM":80,"Pol":150},
{"d":"2019-09-01","BM":100,"Bot":80,"Bou":30,"PM":50,"Pol":80},
{"d":"2019-09-02","BM":220,"Bot":100,"Bou":40,"PM":60,"Pol":120},
{"d":"2019-09-03","BM":150,"Bot":80,"Bou":30,"PM":50,"Pol":100},
{"d":"2019-09-04","BM":230,"Bot":120,"Bou":40,"PM":80,"Pol":150},
{"d":"2019-09-05","BM":60,"Bot":60,"Bou":20,"PM":30,"Pol":60},
{"d":"2019-09-06","BM":200,"Bot":100,"Bou":30,"PM":50,"Pol":120},
{"d":"2019-09-07","BM":100,"Bot":80,"Bou":20,"PM":40,"Pol":80},
{"d":"2019-09-08","BM":230,"Bot":120,"Bou":40,"PM":60,"Pol":150},
{"d":"2019-09-09","BM":80,"Bot":60,"Bou":20,"PM":30,"Pol":60},
{"d":"2019-09-10","BM":220,"Bot":100,"Bou":30,"PM":50,"Pol":120},
{"d":"2019-09-11","BM":60,"Bot":50,"Bou":20,"PM":30,"Pol":50},
{"d":"2019-09-12","BM":100,"Bot":60,"Bou":20,"PM":30,"Pol":60},
{"d":"2019-09-13","BM":400,"Bot":250,"Bou":80,"PM":100,"Pol":300},
{"d":"2019-09-14","BM":2087,"Bot":420,"Bou":200,"PM":150,"Pol":420},
{"d":"2019-09-15","BM":2040,"Bot":200,"Bou":80,"PM":80,"Pol":200},
{"d":"2019-09-16","BM":60,"Bot":60,"Bou":20,"PM":30,"Pol":50},
{"d":"2019-09-17","BM":80,"Bot":60,"Bou":20,"PM":30,"Pol":60},
{"d":"2019-09-18","BM":220,"Bot":100,"Bou":30,"PM":50,"Pol":100},
{"d":"2019-09-19","BM":150,"Bot":120,"Bou":40,"PM":60,"Pol":130},
{"d":"2019-09-20","BM":200,"Bot":150,"Bou":60,"PM":80,"Pol":150}
],
"seasons":[
{"n":"automne","s":"2018-09-18","e":"2018-12-21","m":"2018-11-06T07:00Z"},
{"n":"hiver","s":"2018-12-21","e":"2019-03-23","m":"2019-02-06T07:00Z"},
{"n":"printemps","s":"2019-03-23","e":"2019-06-24","m":"2019-05-12T12:00Z"},
{"n":"été","s":"2019-06-24","e":"2019-09-24T12:00Z","m":"2019-08-02T14:00Z"}
],
"vac":[
{"n":"Toussaint","s":"2018-10-25T14:00Z","e":"2018-11-03T00:00Z","m":"2018-10-29T19:00Z","tx":"2018-10-13T10:00Z","top":-899,"h":-986,"tip":-1079,"ty":-1140,"t":"Vacances de\nToussaint"},
{"n":"Noël","s":"2018-12-17T19:00Z","e":"2019-01-04T10:00Z","m":"2018-12-26T14:00Z","tx":"2018-12-14T12:00Z","top":-805,"h":-981,"tip":-1151,"ty":-1183,"t":"Vacances de\nNoël"},
{"n":"Carnaval","s":"2019-02-23T14:00Z","e":"2019-03-03T14:00Z","m":"2019-02-27T14:00Z","tx":"2019-02-11T00:00Z","top":-888,"h":-981,"tip":-1085,"ty":-1129,"t":"Vacances de\nCarnaval"},
{"n":"Pâques","s":"2019-04-03T17:00Z","e":"2019-04-22T05:00Z","m":"2019-04-12T22:00Z","tx":"2019-03-31T10:00Z","top":-888,"h":-1036,"tip":-1216,"ty":-1238,"t":"Vacances de\nPâques"},
{"n":"été","s":"2019-07-04T10:00Z","e":"2019-08-28T22:00Z","m":"2019-08-01T02:00Z","tx":"2019-07-08T19:00Z","top":-805,"h":-931,"tip":-1063,"ty":-1140,"t":"Vacances d’été"}
],
"peaks":[
{"d":"2019-01-15T18:00Z","t":"3100"},
{"d":"2019-01-31T07:00Z","t":"3068"},
{"d":"2019-06-09T07:00Z","t":"2149"},
{"d":"2019-09-14T08:00Z","t":"2087"}
],
"snow":[
{"d":"2019-01-16T01:00Z","t":"Neige"},
{"d":"2019-02-02T17:00Z","t":"Neige"}
]
},
"layer":[
{"data":{"name":"seasons"},"mark":{"type":"rect","clip":false},
 "encoding":{"x":{"field":"s","type":"temporal","axis":null},"x2":{"field":"e"},
  "y":{"datum":-16,"axis":null},"y2":{"datum":-767},
  "fill":{"field":"n","type":"nominal","legend":null,"scale":{"domain":["automne","hiver","printemps","été"],"range":["#a6a6a6","#ededed","#d9d9d9","#a6a6a6"]}}}},
{"data":{"name":"seasons"},"mark":{"type":"text","clip":false,"fontSize":19,"font":"Open Sans","color":"#1a1a1a","baseline":"middle","align":"center"},
 "encoding":{"x":{"field":"m","type":"temporal","axis":null},"y":{"datum":-597,"axis":null},"text":{"field":"n"}}},
{"data":{"name":"daily"},
 "transform":[{"fold":["BM","Bot","Bou","PM","Pol"],"as":["s","v"]}],
 "mark":{"type":"line","clip":true,"strokeWidth":1.4},
 "encoding":{
  "x":{"field":"d","type":"temporal",
   "scale":{"type":"utc","nice":false,"domain":[{"year":2018,"month":9,"date":21,"utc":true},{"year":2019,"month":9,"date":20,"utc":true}]},
   "axis":{"orient":"bottom","title":null,"format":"%d-%m-%y","labelAngle":270,"labelAlign":"right","labelBaseline":"middle","labelPadding":14,"labelFontSize":21,"labelFont":"Open Sans","labelColor":"#595959","domain":false,"ticks":false,"grid":false,"labelFlush":false,"labelOverlap":false,"labelBound":false,"zindex":1,
    "values":[{"year":2018,"month":9,"date":21,"utc":true},{"year":2018,"month":10,"date":5,"utc":true},{"year":2018,"month":10,"date":19,"utc":true},{"year":2018,"month":11,"date":2,"utc":true},{"year":2018,"month":11,"date":16,"utc":true},{"year":2018,"month":11,"date":30,"utc":true},{"year":2018,"month":12,"date":14,"utc":true},{"year":2018,"month":12,"date":28,"utc":true},{"year":2019,"month":1,"date":11,"utc":true},{"year":2019,"month":1,"date":25,"utc":true},{"year":2019,"month":2,"date":8,"utc":true},{"year":2019,"month":2,"date":22,"utc":true},{"year":2019,"month":3,"date":8,"utc":true},{"year":2019,"month":3,"date":22,"utc":true},{"year":2019,"month":4,"date":5,"utc":true},{"year":2019,"month":4,"date":19,"utc":true},{"year":2019,"month":5,"date":3,"utc":true},{"year":2019,"month":5,"date":17,"utc":true},{"year":2019,"month":5,"date":31,"utc":true},{"year":2019,"month":6,"date":14,"utc":true},{"year":2019,"month":6,"date":28,"utc":true},{"year":2019,"month":7,"date":12,"utc":true},{"year":2019,"month":7,"date":26,"utc":true},{"year":2019,"month":8,"date":9,"utc":true},{"year":2019,"month":8,"date":23,"utc":true},{"year":2019,"month":9,"date":6,"utc":true},{"year":2019,"month":9,"date":20,"utc":true}]}},
  "y":{"field":"v","type":"quantitative","scale":{"domain":[0,2000],"nice":false},
   "axis":{"orient":"left","title":null,"format":"d","values":[0,200,400,600,800,1000,1200,1400,1600,1800,2000],"labelOverlap":false,"domain":false,"ticks":false,"grid":true,"labelPadding":20,"labelFontSize":20,"labelFont":"Open Sans","labelColor":"#404040","gridColor":"#d9d9d9","gridWidth":1.5,"zindex":0}},
  "color":{"field":"s","type":"nominal",
   "scale":{"domain":["BM","Bot","Bou","PM","Pol"],"range":["#5b9bd5","#ed7d31","#a5a5a5","#ffc000","#264478"]},
   "legend":{"orient":"none","legendX":315,"legendY":474,"direction":"horizontal","columns":5,"title":null,"symbolType":"stroke","symbolSize":2600,"symbolStrokeWidth":1.5,"labelFontSize":19,"labelFont":"Open Sans","labelColor":"#404040","columnPadding":20,"gridAlign":"all","labelOffset":8,"padding":0}}}},
{"data":{"name":"peaks"},"mark":{"type":"text","clip":false,"fontSize":16,"font":"Open Sans","color":"#000000","baseline":"middle","align":"center"},
 "encoding":{"x":{"field":"d","type":"temporal","axis":null},"y":{"datum":2044,"axis":null},"text":{"field":"t"}}},
{"data":{"name":"snow"},"mark":{"type":"text","clip":false,"fontSize":18,"font":"Open Sans","color":"#000000","baseline":"middle","align":"center","angle":270},
 "encoding":{"x":{"field":"d","type":"temporal","axis":null},"y":{"datum":2416,"axis":null},"text":{"field":"t"}}},
{"data":{"values":[{"t":"Hautes Fagnes"}]},"mark":{"type":"text","clip":false,"fontSize":21,"fontWeight":"bold","font":"Open Sans","color":"#595959","baseline":"middle","align":"center"},
 "encoding":{"x":{"datum":{"year":2019,"month":3,"date":14,"hours":2,"utc":true},"type":"temporal","axis":null},"y":{"datum":2285,"axis":null},"text":{"field":"t"}}},
{"data":{"name":"vac"},"mark":{"type":"rule","clip":false,"color":"#000000","strokeWidth":1.2},
 "encoding":{"x":{"field":"s","type":"temporal","axis":null},"y":{"field":"top","type":"quantitative","axis":null},"y2":{"field":"h"}}},
{"data":{"name":"vac"},"mark":{"type":"rule","clip":false,"color":"#000000","strokeWidth":1.2},
 "encoding":{"x":{"field":"e","type":"temporal","axis":null},"y":{"field":"top","type":"quantitative","axis":null},"y2":{"field":"h"}}},
{"data":{"name":"vac"},"mark":{"type":"rule","clip":false,"color":"#000000","strokeWidth":1.2},
 "encoding":{"x":{"field":"s","type":"temporal","axis":null},"x2":{"field":"e"},"y":{"field":"h","type":"quantitative","axis":null}}},
{"data":{"name":"vac"},"mark":{"type":"rule","clip":false,"color":"#000000","strokeWidth":1.2},
 "encoding":{"x":{"field":"m","type":"temporal","axis":null},"y":{"field":"h","type":"quantitative","axis":null},"y2":{"field":"tip"}}},
{"data":{"name":"vac"},"mark":{"type":"text","clip":false,"fontSize":19,"font":"Open Sans","color":"#262626","baseline":"top","align":"left","lineBreak":"\n","lineHeight":25},
 "encoding":{"x":{"field":"tx","type":"temporal","axis":null},"y":{"field":"ty","type":"quantitative","axis":null},"text":{"field":"t"}}},
{"data":{"values":[{"t":"frame"}]},"mark":{"type":"rect","clip":false,"fill":null,"fillOpacity":0,"stroke":"#000000","strokeWidth":2},
 "encoding":{"x":{"datum":{"year":2018,"month":8,"date":29,"hours":22,"utc":true},"type":"temporal","axis":null},"x2":{"datum":{"year":2019,"month":9,"date":24,"hours":12,"utc":true}},"y":{"datum":2592,"axis":null},"y2":{"datum":-1700}}}
]
}
